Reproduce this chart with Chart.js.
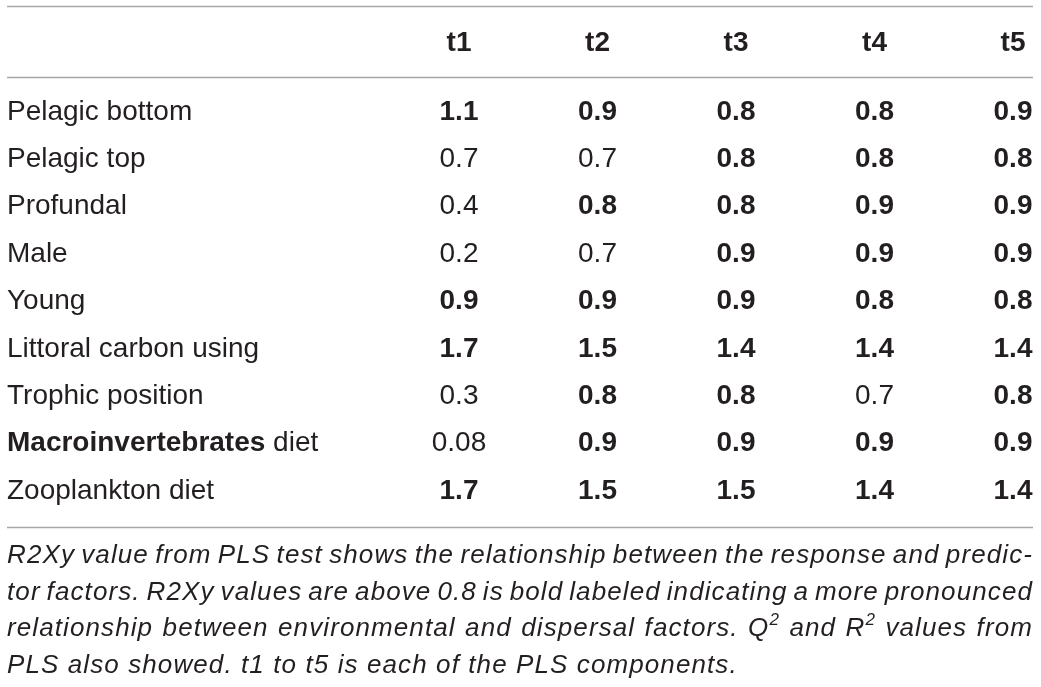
<!DOCTYPE html>
<html>
<head>
<meta charset="utf-8">
<title>R2Xy values from PLS test</title>
<script src="https://cdn.jsdelivr.net/npm/chart.js@4.4.1/dist/chart.umd.min.js"></script>
<style>
    html, body { margin: 0; padding: 0; background: #ffffff; }
    #table { display: block; }
</style>
</head>
<body>
<canvas id="table" width="1041" height="687"></canvas>
<script>
// PLS components (columns)
const components = ['t1', 't2', 't3', 't4', 't5'];

// Factors (rows); "Macroinvertebrates" is printed bold in the source
const factors = [
    'Pelagic bottom',
    'Pelagic top',
    'Profundal',
    'Male',
    'Young',
    'Littoral carbon using',
    'Trophic position',
    'Macroinvertebrates diet',
    'Zooplankton diet'
];

// R2Xy values per component, one entry per factor
const t1 = [1.1, 0.7, 0.4, 0.2, 0.9, 1.7, 0.3, 0.08, 1.7];
const t2 = [0.9, 0.7, 0.8, 0.7, 0.9, 1.5, 0.8, 0.9, 1.5];
const t3 = [0.8, 0.8, 0.8, 0.9, 0.9, 1.4, 0.8, 0.9, 1.5];
const t4 = [0.8, 0.8, 0.9, 0.9, 0.8, 1.4, 0.7, 0.9, 1.4];
const t5 = [0.9, 0.8, 0.9, 0.9, 0.8, 1.4, 0.8, 0.9, 1.4];
const seriesValues = [t1, t2, t3, t4, t5];

// values at or above this are bold labeled (see caption)
const boldThreshold = 0.8;

// caption, "^" marks a one-character superscript
const captionLines = [
    'R2Xy value from PLS test shows the relationship between the response and predic-',
    'tor factors. R2Xy values are above 0.8 is bold labeled indicating a more pronounced',
    'relationship between environmental and dispersal factors. Q^2 and R^2 values from',
    'PLS also showed. t1 to t5 is each of the PLS components.'
];

const FONT = '"Liberation Sans", Arial, Helvetica, sans-serif';
const TEXT_COLOR = '#231f20';
const RULE_COLOR = '#a6a6a6';

// Build one dataset per component, each point sits on a (column, row) cell
const datasets = components.map((name, col) => ({
    label: name,
    data: seriesValues[col].map((v, row) => ({ x: col, y: row, value: v })),
    pointRadius: 0,
    pointHoverRadius: 0
}));

// Split a caption word into normal / superscript runs
function wordRuns(word) {
    const runs = [];
    let i = 0;
    let buf = '';
    while (i < word.length) {
        if (word[i] === '^' && i + 1 < word.length) {
            if (buf) runs.push({ text: buf, sup: false });
            buf = '';
            runs.push({ text: word[i + 1], sup: true });
            i += 2;
        } else {
            buf += word[i];
            i++;
        }
    }
    if (buf) runs.push({ text: buf, sup: false });
    return runs;
}

const tablePlugin = {
    id: 'tableText',
    afterDatasetsDraw(chart) {
        const { ctx, scales: { x, y } } = chart;
        const left = 7;
        const right = 1033;

        ctx.save();
        ctx.textBaseline = 'middle';
        ctx.fillStyle = TEXT_COLOR;

        // horizontal rules
        ctx.strokeStyle = RULE_COLOR;
        ctx.lineWidth = 1.5;
        [y.getPixelForValue(-2.23), y.getPixelForValue(-0.74), y.getPixelForValue(8.77)].forEach(py => {
            ctx.beginPath();
            ctx.moveTo(left, Math.round(py) + 0.5);
            ctx.lineTo(right, Math.round(py) + 0.5);
            ctx.stroke();
        });

        // header row
        ctx.textAlign = 'center';
        ctx.font = 'bold 28px ' + FONT;
        const headerY = y.getPixelForValue(-1.46);
        components.forEach((name, col) => {
            ctx.fillText(name, x.getPixelForValue(col), headerY);
        });

        // row labels
        ctx.textAlign = 'left';
        factors.forEach((label, row) => {
            const py = y.getPixelForValue(row);
            if (label.startsWith('Macroinvertebrates')) {
                ctx.font = 'bold 28px ' + FONT;
                const head = 'Macroinvertebrates';
                ctx.fillText(head, left, py);
                const w = ctx.measureText(head).width;
                ctx.font = '28px ' + FONT;
                ctx.fillText(label.slice(head.length), left + w, py);
            } else {
                ctx.font = '28px ' + FONT;
                ctx.fillText(label, left, py);
            }
        });

        // cell values, placed by the library's scales
        ctx.textAlign = 'center';
        chart.data.datasets.forEach((ds, di) => {
            const meta = chart.getDatasetMeta(di);
            meta.data.forEach((pt, k) => {
                const v = ds.data[k].value;
                ctx.font = (v >= boldThreshold ? 'bold ' : '') + '28px ' + FONT;
                ctx.fillText(String(v), pt.x, pt.y);
            });
        });

        // caption, justified except the last line
        ctx.textAlign = 'left';
        ctx.textBaseline = 'alphabetic';
        const capFont = 'italic 26px ' + FONT;
        const supFont = 'italic 17px ' + FONT;
        if ('letterSpacing' in ctx) ctx.letterSpacing = '1.1px';
        const baseY = 563;
        const lineGap = 36.7;
        captionLines.forEach((line, li) => {
            const words = line.split(' ').map(wordRuns);
            const widths = words.map(runs => runs.reduce((s, r) => {
                ctx.font = r.sup ? supFont : capFont;
                return s + ctx.measureText(r.text).width;
            }, 0));
            ctx.font = capFont;
            const space = ctx.measureText(' ').width;
            const total = widths.reduce((a, b) => a + b, 0);
            const last = li === captionLines.length - 1;
            const gap = last ? space : (right - left - total) / (words.length - 1);
            let cx = left;
            const by = baseY + li * lineGap;
            words.forEach(runs => {
                runs.forEach(r => {
                    ctx.font = r.sup ? supFont : capFont;
                    ctx.fillText(r.text, cx, r.sup ? by - 11 : by);
                    cx += ctx.measureText(r.text).width;
                });
                cx += gap;
            });
        });
        ctx.restore();
    }
};

new Chart(document.getElementById('table').getContext('2d'), {
    type: 'scatter',
    data: { datasets },
    options: {
        responsive: false,
        animation: false,
        events: [],
        layout: {
            padding: { left: 459, right: 28, top: 112, bottom: 196 }
        },
        plugins: {
            legend: { display: false },
            tooltip: { enabled: false },
            title: { display: false }
        },
        scales: {
            x: { type: 'linear', min: 0, max: components.length - 1, display: false },
            y: { type: 'linear', min: 0, max: factors.length - 1, reverse: true, display: false }
        }
    },
    plugins: [tablePlugin]
});
</script>
</body>
</html>
